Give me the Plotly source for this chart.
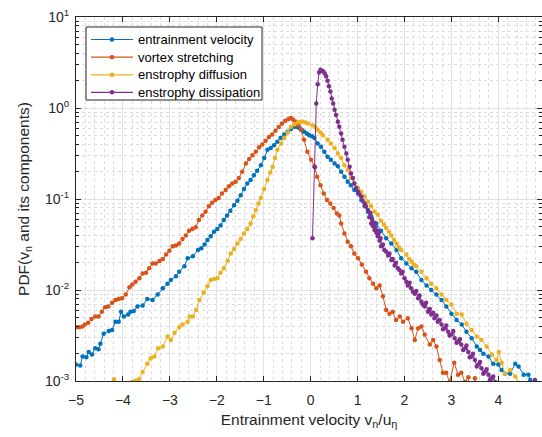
import numpy as np
import plotly.graph_objects as go

# Entrainment velocity v_n/u_eta (x) and log10 of the PDF (y) for each series

ent_x = [-5.00, -4.91, -4.86, -4.78, -4.73, -4.66, -4.59, -4.52, -4.48, -4.41, -4.30, -4.23,
         -4.16, -4.09, -4.04, -3.98, -3.89, -3.84, -3.77, -3.69, -3.58, -3.48, -3.37, -3.26,
         -3.15, -3.05, -2.98, -2.87, -2.80, -2.69, -2.62, -2.51, -2.40, -2.33, -2.26, -2.20,
         -2.13, -2.06, -1.99, -1.92, -1.85, -1.78, -1.71, -1.63, -1.56, -1.49, -1.42, -1.35,
         -1.28, -1.21, -1.14, -1.06, -0.99, -0.92, -0.85, -0.78, -0.71, -0.64, -0.56, -0.49,
         -0.42, -0.35, -0.29, -0.24, -0.19, -0.14, -0.08, -0.03, 0.03, 0.08, 0.15, 0.22,
         0.29, 0.36, 0.43, 0.51, 0.58, 0.65, 0.72, 0.79, 0.86, 0.93, 1.01, 1.08,
         1.15, 1.22, 1.29, 1.40, 1.50, 1.61, 1.72, 1.83, 1.93, 2.04, 2.15, 2.25,
         2.36, 2.47, 2.57, 2.68, 2.79, 2.89, 3.00, 3.11, 3.22, 3.32, 3.43, 3.54,
         3.61, 3.68, 3.79, 3.89, 4.00, 4.07, 4.14, 4.25, 4.36, 4.43, 4.54, 4.64,
         4.68, 4.75]
ent_log = [-2.82, -2.83, -2.73, -2.74, -2.68, -2.71, -2.64, -2.65, -2.59, -2.48, -2.45, -2.44,
           -2.35, -2.35, -2.24, -2.29, -2.27, -2.24, -2.23, -2.18, -2.17, -2.10, -2.11, -2.05,
           -1.98, -1.93, -1.89, -1.85, -1.80, -1.74, -1.65, -1.63, -1.56, -1.54, -1.50, -1.45,
           -1.41, -1.36, -1.33, -1.29, -1.23, -1.18, -1.13, -1.07, -1.02, -0.96, -0.89, -0.83,
           -0.79, -0.74, -0.69, -0.63, -0.55, -0.46, -0.44, -0.41, -0.37, -0.33, -0.29, -0.26,
           -0.23, -0.205, -0.21, -0.22, -0.24, -0.26, -0.28, -0.30, -0.31, -0.33, -0.39, -0.425,
           -0.48, -0.535, -0.57, -0.61, -0.64, -0.70, -0.755, -0.81, -0.85, -0.90, -0.94, -1.01,
           -1.08, -1.14, -1.19, -1.27, -1.35, -1.43, -1.49, -1.56, -1.65, -1.71, -1.76, -1.80,
           -1.89, -1.95, -2.00, -2.05, -2.11, -2.18, -2.26, -2.33, -2.38, -2.46, -2.53, -2.62,
           -2.66, -2.70, -2.73, -2.81, -2.82, -2.88, -2.92, -2.92, -2.81, -2.84, -2.93, -2.93,
           -2.99, -3.30]

vs_x = [-5.00, -4.93, -4.86, -4.81, -4.74, -4.67, -4.59, -4.52, -4.45, -4.38, -4.31, -4.23,
        -4.16, -4.09, -4.02, -3.94, -3.86, -3.80, -3.73, -3.65, -3.58, -3.51, -3.44, -3.37,
        -3.30, -3.22, -3.15, -3.08, -3.01, -2.94, -2.87, -2.80, -2.73, -2.66, -2.59, -2.52,
        -2.45, -2.38, -2.31, -2.24, -2.17, -2.10, -2.03, -1.96, -1.89, -1.81, -1.74, -1.67,
        -1.60, -1.53, -1.46, -1.38, -1.31, -1.24, -1.17, -1.10, -1.03, -0.96, -0.89, -0.82,
        -0.75, -0.68, -0.61, -0.54, -0.47, -0.42, -0.37, -0.31, -0.26, -0.21, -0.14, -0.07,
        0.01, 0.08, 0.14, 0.21, 0.28, 0.35, 0.42, 0.49, 0.56, 0.61, 0.65, 0.72,
        0.79, 0.86, 0.93, 1.01, 1.09, 1.18, 1.25, 1.33, 1.40, 1.47, 1.54, 1.61,
        1.68, 1.75, 1.82, 1.90, 1.97, 2.07, 2.15, 2.22, 2.29, 2.36, 2.43, 2.54,
        2.61, 2.68, 2.75, 2.82, 2.89, 2.96, 3.06, 3.14, 3.21, 3.29, 3.36, 3.43,
        3.50, 3.57]
vs_log = [-2.41, -2.41, -2.40, -2.38, -2.36, -2.32, -2.29, -2.29, -2.24, -2.19, -2.18, -2.14,
          -2.11, -2.10, -2.09, -2.05, -1.97, -1.94, -1.91, -1.87, -1.82, -1.81, -1.76, -1.71,
          -1.71, -1.68, -1.66, -1.61, -1.57, -1.52, -1.51, -1.49, -1.44, -1.40, -1.35, -1.33,
          -1.31, -1.23, -1.18, -1.14, -1.08, -1.04, -1.01, -0.99, -0.94, -0.90, -0.86, -0.83,
          -0.81, -0.77, -0.70, -0.61, -0.56, -0.52, -0.48, -0.43, -0.40, -0.36, -0.32, -0.29,
          -0.25, -0.21, -0.17, -0.14, -0.12, -0.11, -0.13, -0.15, -0.19, -0.24, -0.35, -0.48,
          -0.57, -0.64, -0.755, -0.85, -0.94, -1.01, -1.05, -1.10, -1.16, -1.18, -1.27, -1.38,
          -1.47, -1.52, -1.60, -1.65, -1.72, -1.80, -1.87, -1.93, -1.98, -1.95, -2.07, -2.22,
          -2.26, -2.24, -2.33, -2.29, -2.35, -2.31, -2.42, -2.55, -2.42, -2.40, -2.49, -2.60,
          -2.55, -2.62, -2.77, -2.91, -2.91, -3.01, -2.80, -2.93, -2.91, -3.01, -2.96, -3.40,
          -2.97, -3.40]

ed_x = [-4.19, -4.12, -3.87, -3.80, -3.73, -3.66, -3.58, -3.48, -3.41, -3.33, -3.25, -3.15,
        -3.05, -2.98, -2.90, -2.80, -2.73, -2.62, -2.58, -2.51, -2.44, -2.37, -2.28, -2.20,
        -2.13, -2.06, -1.99, -1.92, -1.85, -1.77, -1.70, -1.63, -1.56, -1.49, -1.42, -1.35,
        -1.28, -1.22, -1.17, -1.11, -1.06, -0.99, -0.92, -0.86, -0.81, -0.76, -0.71, -0.63,
        -0.56, -0.49, -0.42, -0.35, -0.28, -0.22, -0.17, -0.11, -0.06, 0.04, 0.10, 0.15,
        0.21, 0.26, 0.36, 0.43, 0.51, 0.58, 0.65, 0.72, 0.79, 0.86, 0.93, 1.01,
        1.08, 1.15, 1.22, 1.29, 1.36, 1.43, 1.50, 1.56, 1.61, 1.67, 1.72, 1.78,
        1.83, 1.88, 1.93, 2.04, 2.10, 2.15, 2.20, 2.25, 2.36, 2.47, 2.57, 2.68,
        2.79, 2.89, 3.00, 3.11, 3.22, 3.32, 3.43, 3.54, 3.64, 3.75, 3.86, 3.96,
        4.01, 4.07, 4.14, 4.25, 4.36, 4.43, 4.50]
ed_log = [-2.98, -3.40, -3.30, -3.01, -3.00, -2.98, -2.90, -2.81, -2.75, -2.73, -2.64, -2.62,
          -2.51, -2.55, -2.47, -2.41, -2.38, -2.35, -2.29, -2.29, -2.22, -2.11, -2.03, -1.96,
          -1.89, -1.88, -1.87, -1.81, -1.76, -1.68, -1.60, -1.55, -1.49, -1.44, -1.38, -1.33,
          -1.27, -1.19, -1.12, -1.05, -0.99, -0.89, -0.79, -0.71, -0.645, -0.55, -0.46, -0.39,
          -0.33, -0.27, -0.21, -0.18, -0.16, -0.15, -0.15, -0.16, -0.17, -0.19, -0.21, -0.24,
          -0.27, -0.30, -0.35, -0.39, -0.44, -0.50, -0.55, -0.63, -0.68, -0.77, -0.83, -0.88,
          -0.92, -0.97, -1.03, -1.08, -1.14, -1.17, -1.24, -1.28, -1.32, -1.36, -1.40, -1.45,
          -1.49, -1.53, -1.56, -1.61, -1.66, -1.69, -1.72, -1.74, -1.80, -1.87, -1.93, -1.98,
          -2.05, -2.11, -2.16, -2.26, -2.27, -2.37, -2.44, -2.51, -2.55, -2.62, -2.71, -2.77,
          -2.68, -2.80, -2.92, -2.88, -2.95, -3.02, -3.30]

dis_x = [0.04, 0.09, 0.12, 0.15, 0.18, 0.21, 0.24, 0.27, 0.30, 0.33, 0.36, 0.39,
         0.42, 0.45, 0.48, 0.51, 0.54, 0.58, 0.61, 0.65, 0.68, 0.72, 0.76, 0.79,
         0.83, 0.86, 0.90, 0.93, 0.97, 1.01, 1.04, 1.08, 1.11, 1.15, 1.18, 1.22,
         1.25, 1.27, 1.29, 1.31, 1.33, 1.35, 1.36, 1.38, 1.40, 1.42, 1.43, 1.45,
         1.47, 1.49, 1.50, 1.54, 1.57, 1.61, 1.65, 1.68, 1.72, 1.75, 1.79, 1.82,
         1.86, 1.89, 1.93, 1.96, 2.00, 2.04, 2.07, 2.11, 2.14, 2.18, 2.22, 2.25,
         2.29, 2.32, 2.36, 2.39, 2.43, 2.46, 2.50, 2.54, 2.57, 2.61, 2.64, 2.68,
         2.71, 2.75, 2.79, 2.82, 2.86, 2.89, 2.93, 2.96, 3.00, 3.04, 3.07, 3.11,
         3.14, 3.18, 3.21, 3.25, 3.29, 3.32, 3.36, 3.39, 3.43, 3.46, 3.50, 3.54,
         3.57, 3.61, 3.64, 3.68, 3.71, 3.75, 3.79, 3.82, 3.86, 3.89, 3.93, 3.96,
         4.70, 4.78, 4.85]
dis_log = [-1.43, -0.65, 0.05, 0.26, 0.39, 0.42, 0.41, 0.40, 0.38, 0.35, 0.30, 0.24,
           0.18, 0.105, 0.05, -0.02, -0.077, -0.15, -0.205, -0.28, -0.35, -0.425, -0.50, -0.57,
           -0.645, -0.72, -0.77, -0.83, -0.88, -0.92, -0.95, -0.975, -1.02, -1.05, -1.08, -1.12,
           -1.20, -1.15, -1.27, -1.22, -1.30, -1.26, -1.34, -1.31, -1.37, -1.35, -1.41, -1.38,
           -1.46, -1.43, -1.52, -1.50, -1.56, -1.58, -1.62, -1.60, -1.67, -1.66, -1.73, -1.70,
           -1.76, -1.78, -1.82, -1.80, -1.87, -1.91, -1.95, -1.92, -1.98, -2.02, -2.04, -2.01,
           -2.09, -2.06, -2.13, -2.16, -2.18, -2.14, -2.24, -2.21, -2.27, -2.25, -2.31, -2.28,
           -2.35, -2.33, -2.38, -2.43, -2.42, -2.39, -2.46, -2.50, -2.49, -2.45, -2.53, -2.58,
           -2.57, -2.54, -2.60, -2.66, -2.64, -2.61, -2.68, -2.74, -2.73, -2.70, -2.77, -2.84,
           -2.82, -2.79, -2.86, -2.92, -2.90, -2.87, -2.93, -2.99, -2.97, -2.95, -3.01, -3.20,
           -3.40, -2.99, -3.40]

series = [
    ("entrainment velocity", ent_x, ent_log, "#0072BD"),
    ("vortex stretching", vs_x, vs_log, "#D95319"),
    ("enstrophy diffusion", ed_x, ed_log, "#EDB120"),
    ("enstrophy dissipation", dis_x, dis_log, "#7E2F8E"),
]

x_ticks = [-5, -4, -3, -2, -1, 0, 1, 2, 3, 4, 5]
y_ticks = [1e-3, 1e-2, 1e-1, 1e0, 1e1]
y_ticktext = ["10<sup>-3</sup>", "10<sup>-2</sup>", "10<sup>-1</sup>",
              "10<sup>0</sup>", "10<sup>1</sup>"]
y_minor = [m * 10.0 ** e for e in range(-3, 1) for m in range(2, 10)]

W, H = 542, 437
ML, MR, MT, MB = 76, 0, 17, 56
PW, PH = W - ML - MR, H - MT - MB

axis_col = "#262626"
family = "Liberation Sans, Arial, sans-serif"


def px_to_paper(px, py):
    """Pixel offsets on the figure -> paper coordinates of the plot area."""
    return (px - ML) / PW, 1 - (py - MT) / PH


fig = go.Figure()
for name, xs, logs, color in series:
    fig.add_trace(go.Scatter(
        x=xs, y=np.power(10.0, logs), name=name, mode="lines+markers",
        line=dict(color=color, width=1),
        marker=dict(color=color, size=4.5),
        showlegend=False,
    ))

# Boxed legend in the upper-left corner of the axes
shapes = []
annotations = []
bx0, by0 = px_to_paper(86, 27)
bx1, by1 = px_to_paper(262, 100)
shapes.append(dict(type="rect", xref="paper", yref="paper", x0=bx0, x1=bx1, y0=by1, y1=by0,
                   fillcolor="white", line=dict(color=axis_col, width=1), layer="above"))
row_y = [39.5, 57.2, 74.9, 92.3]
for (name, _, _, color), ry in zip(series, row_y):
    lx0, ly = px_to_paper(91, ry)
    lx1, _ = px_to_paper(133, ry)
    cx, _ = px_to_paper(112, ry)
    shapes.append(dict(type="line", xref="paper", yref="paper", x0=lx0, x1=lx1, y0=ly, y1=ly,
                       line=dict(color=color, width=1.2), layer="above"))
    r = 2.3
    shapes.append(dict(type="circle", xref="paper", yref="paper",
                       x0=cx - r / PW, x1=cx + r / PW, y0=ly - r / PH, y1=ly + r / PH,
                       fillcolor=color, line=dict(color=color, width=0), layer="above"))
    tx, _ = px_to_paper(136, ry)
    annotations.append(dict(text=name, xref="paper", yref="paper", x=tx, y=ly,
                            xanchor="left", yanchor="middle", showarrow=False,
                            font=dict(family=family, size=13, color="#000000")))

fig.update_layout(
    width=W, height=H,
    margin=dict(l=ML, r=MR, t=MT, b=MB),
    paper_bgcolor="white", plot_bgcolor="white",
    font=dict(family=family, size=14, color=axis_col),
    showlegend=False,
    shapes=shapes,
    annotations=annotations,
    xaxis=dict(
        range=[-5, 4.93], tickmode="array", tickvals=x_ticks,
        ticks="inside", ticklen=5, tickcolor=axis_col, ticklabelstandoff=6,
        showline=True, linecolor=axis_col, linewidth=1, mirror="ticks",
        showgrid=True, gridcolor="#e2e2e2", gridwidth=1, zeroline=False,
        minor=dict(dtick=0.2, tick0=0, showgrid=True, gridcolor="#dcdcdc",
                   griddash="dot", gridwidth=1),
        title=dict(text="Entrainment velocity v<sub>n</sub>/u<sub>η</sub>",
                   font=dict(family=family, size=15.5, color=axis_col), standoff=7),
        tickfont=dict(family=family, size=14, color=axis_col),
    ),
    yaxis=dict(
        type="log", range=[-3, 1], tickmode="array", tickvals=y_ticks,
        ticktext=y_ticktext,
        ticks="inside", ticklen=5, tickcolor=axis_col, ticklabelstandoff=3,
        showline=True, linecolor=axis_col, linewidth=1, mirror="ticks",
        showgrid=True, gridcolor="#e2e2e2", gridwidth=1, zeroline=False,
        minor=dict(tickmode="array", tickvals=y_minor, showgrid=True,
                   gridcolor="#dcdcdc", griddash="dot", gridwidth=1,
                   ticks="inside", ticklen=3, tickcolor=axis_col),
        title=dict(text="PDF(v<sub>n</sub> and its components)",
                   font=dict(family=family, size=15.5, color=axis_col), standoff=11),
        tickfont=dict(family=family, size=14, color=axis_col),
    ),
)

fig.write_html("out.html")
